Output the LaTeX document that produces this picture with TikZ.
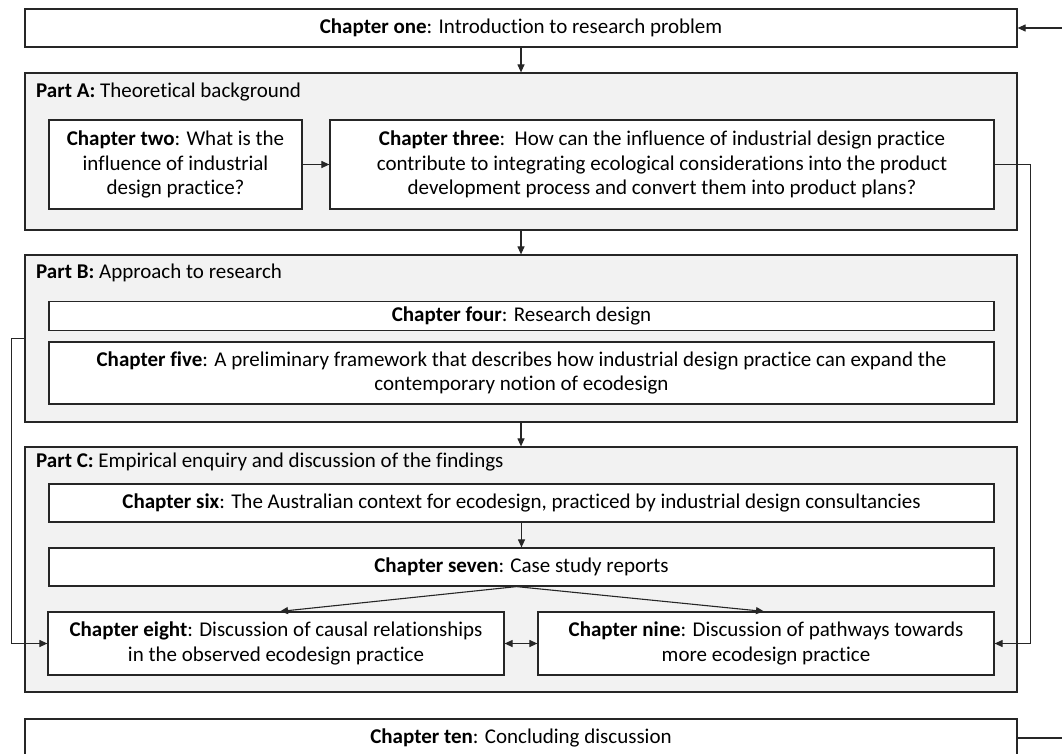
\documentclass[tikz,border=0pt]{standalone}
\usepackage{fontspec}
\setmainfont{Carlito}[Ligatures=NoCommon]
\usetikzlibrary{arrows.meta}
\definecolor{linec}{HTML}{262626}
\definecolor{partfill}{HTML}{F2F2F2}
\begin{document}
\begin{tikzpicture}[x=1pt,y=-1pt,
  every node/.style={font=\fontsize{21}{24.5}\selectfont, text=black},
  chap/.style={draw=linec, line width=1.2pt, fill=white, align=center, inner sep=0pt},
  part/.style={draw=linec, line width=1.2pt, fill=partfill, inner sep=0pt},
  plabel/.style={anchor=west, inner sep=0pt},
  link/.style={draw=linec, line width=1.1pt, -{Triangle[length=8pt,width=7pt]}},
  both/.style={draw=linec, line width=1.1pt, {Triangle[length=8pt,width=7pt]}-{Triangle[length=8pt,width=7pt]}},
  wire/.style={draw=linec, line width=1.1pt},
]
\useasboundingbox (0,0) rectangle (1062,753);
\clip (0,0) rectangle (1062,753);

% chapter one
\node[chap, minimum width=992pt, minimum height=38pt] (one) at (521,28)
  {\textbf{Chapter one}: Introduction to research problem};

% Part A
\node[part, minimum width=992pt, minimum height=157pt] (partA) at (521,151.5) {};
\node[plabel] (labA) at (36,92) {\textbf{Part A:} Theoretical background};
\node[chap, minimum width=253pt, minimum height=89pt] (two) at (175.5,164.5)
  {\textbf{Chapter two}: What is the\\influence of industrial\\design practice?};
\node[chap, minimum width=664pt, minimum height=89pt] (three) at (662,164.5)
  {\textbf{Chapter three}:\ \ How can the influence of industrial design practice\\contribute to integrating ecological considerations into the product\\development process and convert them into product plans?};

% Part B
\node[part, minimum width=992pt, minimum height=167pt] (partB) at (521,338.5) {};
\node[plabel] (labB) at (36,273) {\textbf{Part B:} Approach to research};
\node[chap, minimum width=945pt, minimum height=29pt] (four) at (521.5,316)
  {\textbf{Chapter four}: Research design};
\node[chap, minimum width=945pt, minimum height=62pt] (five) at (521.5,373)
  {\textbf{Chapter five}: A preliminary framework that describes how industrial design practice can expand the\\contemporary notion of ecodesign};

% Part C
\node[part, minimum width=992pt, minimum height=245pt] (partC) at (521,569.5) {};
\node[plabel] (labC) at (36,462) {\textbf{Part C:} Empirical enquiry and discussion of the findings};
\node[chap, minimum width=945pt, minimum height=38pt] (six) at (521.5,503)
  {\textbf{Chapter six}: The Australian context for ecodesign, practiced by industrial design consultancies};
\node[chap, minimum width=945pt, minimum height=38pt] (seven) at (521.5,567)
  {\textbf{Chapter seven}: Case study reports};
\node[chap, minimum width=456pt, minimum height=63pt] (eight) at (276,643.5)
  {\textbf{Chapter eight}: Discussion of causal relationships\\in the observed ecodesign practice};
\node[chap, minimum width=456pt, minimum height=63pt] (nine) at (766,643.5)
  {\textbf{Chapter nine}: Discussion of pathways towards\\more ecodesign practice};

% chapter ten
\node[chap, minimum width=992pt, minimum height=38pt] (ten) at (521,738)
  {\textbf{Chapter ten}: Concluding discussion};

% loose ends of the outer feedback loop
\coordinate (loopin) at (1062,28);
\coordinate (loopout) at (1062,738);

% connectors
\draw[link] (one.south) -- (partA.north);
\draw[link] (two.east) -- (three.west);
\draw[link] (partA.south) -- (partB.north);
\draw[link] (partB.south) -- (partC.north);
\draw[link] (six.south) -- (seven.north);
\draw[link] ([xshift=-5pt]seven.south) -- ([xshift=4pt]eight.north);
\draw[link] ([xshift=-5pt]seven.south) -- ([xshift=-2pt]nine.north);
\draw[both] (eight.east) -- (nine.west);
\draw[link] (three.east) -- ++(36,0) |- (nine.east);
\draw[link] (partB.west) -- ++(-13,0) |- (eight.west);
\draw[link] (loopin) -- (one.east);
\draw[wire] (ten.east) -- (loopout);
\end{tikzpicture}
\end{document}
